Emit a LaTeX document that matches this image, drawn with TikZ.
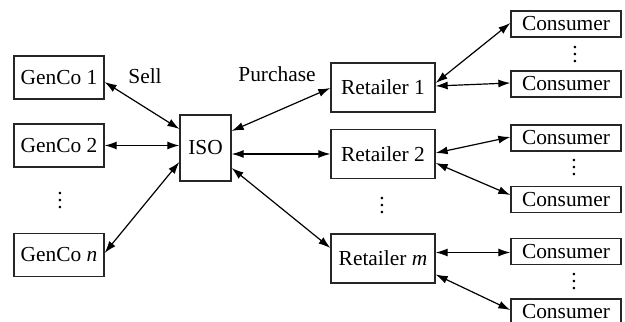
\documentclass[tikz,border=0pt]{standalone}
\usepackage{fontspec}
\setmainfont{Liberation Serif}
\usepackage{tikz}
\usetikzlibrary{arrows.meta, positioning}
\newcommand{\vdotbox}{\vbox{\baselineskip3.5pt\lineskiplimit0pt\hbox{.}\hbox{.}\hbox{.}}}

\begin{document}
\begin{tikzpicture}[x=0.5pt, y=0.5pt,
        font=\fontsize{10.7}{12}\selectfont,
        genbox/.style={rectangle, draw=black!85, line width=0.65pt, inner sep=0pt, minimum width=45pt, minimum height=21.5pt},
        isobox/.style={rectangle, draw=black!85, line width=0.65pt, inner sep=0pt, minimum width=25.5pt, minimum height=33pt},
        retbox/.style={rectangle, draw=black!85, line width=0.65pt, inner sep=0pt, minimum width=52pt, minimum height=24.5pt},
        conbox/.style={rectangle, draw=black!85, line width=0.65pt, inner sep=0pt, minimum width=55pt, minimum height=13pt},
        dots/.style={inner sep=0pt},
        link/.style={draw=black, line width=0.6pt, {Latex[length=6pt,width=4pt]}-{Latex[length=6pt,width=4pt]}}]
        \useasboundingbox (0,0) rectangle (625,321);

        % Generadores
        \node [genbox] (gen1) at (59,243.5) {GenCo 1};
        \node [genbox] (gen2) at (59,175.5) {GenCo 2};
        \node [genbox] (genn) at (59,66) {GenCo \textit{n}};
        \node [dots] (gendots) at (60,120) {\vdotbox};

        % Operador
        \node [isobox] (iso) at (205.5,173) {ISO};
        \node (sell) at (145,245) {Sell};
        \node (purchase) at (277,247) {Purchase};

        % Minoristas
        \node [retbox] (ret1) at (383,233.5) {Retailer 1};
        \node [retbox] (ret2) at (383,167) {Retailer 2};
        \node [retbox] (retm) at (383,62.5) {Retailer \textit{m}};
        \node [dots] (retdots) at (382,115) {\vdotbox};

        % Consumidores
        \node [conbox] (con1) at (566,297) {Consumer};
        \node [conbox] (con2) at (566,237) {Consumer};
        \node [conbox] (con3) at (566,183) {Consumer};
        \node [conbox] (con4) at (566,121.5) {Consumer};
        \node [conbox] (con5) at (566,69.5) {Consumer};
        \node [conbox] (con6) at (566,9) {Consumer};
        \node [dots] (condots1) at (575,266) {\vdotbox};
        \node [dots] (condots2) at (574,153) {\vdotbox};
        \node [dots] (condots3) at (574,39) {\vdotbox};

        % Conexiones
        \path [link] ([yshift=-2.25pt]gen1.east) -- ([yshift=9.5pt]iso.west);
        \path [link] (gen2.east) -- (gen2.east -| iso.west);
        \path [link] ([yshift=1pt]genn.east) -- ([yshift=-7pt]iso.west);
        \path [link] ([yshift=8.5pt]iso.east) -- ([yshift=-0.25pt]ret1.west);
        \path [link] (ret2.west -| iso.east) -- (ret2.west);
        \path [link] ([yshift=-10pt]iso.east) -- ([yshift=5.25pt]retm.west);
        \path [link] ([yshift=2.25pt]ret1.east) -- ([yshift=0.5pt]con1.west);
        \path [link] ([yshift=0.75pt]ret1.east) -- ([yshift=0.5pt]con2.west);
        \path [link] ([yshift=0.5pt]ret2.east) -- ([yshift=0.5pt]con3.west);
        \path [link] ([yshift=-4.5pt]ret2.east) -- ([yshift=2.25pt]con4.west);
        \path [link] ([yshift=3pt]retm.east) -- ([yshift=3pt]retm.east -| con5.west);
        \path [link] ([yshift=-8pt]retm.east) -- ([yshift=1pt]con6.west);
    \end{tikzpicture}
\end{document}
